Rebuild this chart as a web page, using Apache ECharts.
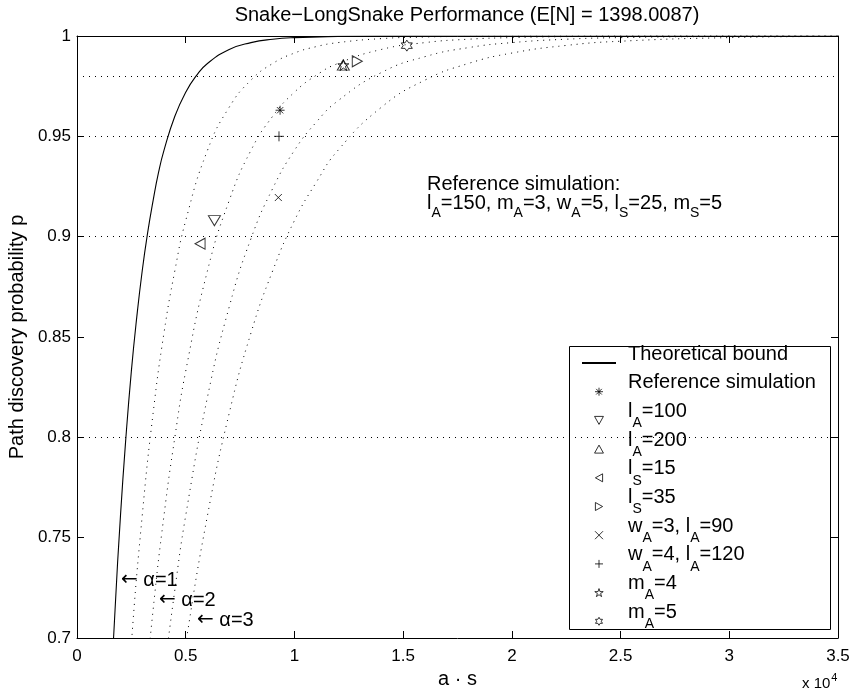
<!DOCTYPE html>
<html><head><meta charset="utf-8">
<script src="https://cdn.jsdelivr.net/npm/echarts@6/dist/echarts.min.js"></script>
<style>html,body{margin:0;padding:0;background:#fff}#c{width:850px;height:691px}</style>
</head><body><div id="c"></div>
<script>
const xTickLabels = ['0', '0.5', '1', '1.5', '2', '2.5', '3', '3.5'];
const yTickLabels = ['0.7', '0.75', '0.8', '0.85', '0.9', '0.95', '1'];
const thresholds = [0.8, 0.9, 0.95, 0.98];
const boundX = [1000, 1500, 1750, 2000, 2250, 2500, 2750, 3000, 3250, 3500, 3750, 4000, 4500, 5000, 5500, 6000, 7000, 8000, 9000, 10000, 12000, 14000, 20000, 35000];
const boundP = [0.511, 0.658, 0.714, 0.761, 0.800, 0.833, 0.860, 0.883, 0.902, 0.918, 0.932, 0.943, 0.960, 0.972, 0.9804, 0.9863, 0.9933, 0.9967, 0.9984, 0.9992, 0.9998, 1.0, 1.0, 1.0];
const a15X = [2000, 2500, 3000, 3500, 4000, 4500, 5000, 6000, 7000, 8000, 9000, 10000, 11000, 12000, 14000, 16000, 18000, 20000, 25000, 35000];
const a15P = [0.615, 0.697, 0.761, 0.812, 0.852, 0.883, 0.908, 0.943, 0.9645, 0.978, 0.9863, 0.9915, 0.9947, 0.9967, 0.9987, 0.9995, 0.9998, 0.9999, 1.0, 1.0];
const a2X = [3000, 3500, 4000, 4500, 5000, 6000, 7000, 8000, 9000, 10000, 11000, 12000, 14000, 16000, 18000, 20000, 22500, 25000, 30000, 35000];
const a2P = [0.658, 0.714, 0.761, 0.800, 0.833, 0.883, 0.918, 0.943, 0.960, 0.972, 0.9804, 0.9863, 0.9933, 0.9967, 0.9984, 0.9992, 0.9997, 0.9999, 1.0, 1.0];
const a25X = [4000, 4500, 5000, 6000, 7000, 8000, 9000, 10000, 11000, 12000, 14000, 16000, 18000, 20000, 22500, 25000, 30000, 35000];
const a25P = [0.682, 0.724, 0.761, 0.820, 0.865, 0.899, 0.924, 0.943, 0.957, 0.9677, 0.9818, 0.9897, 0.9942, 0.9967, 0.9984, 0.9992, 0.9998, 1.0];
const a3X = [4500, 5000, 6000, 7000, 8000, 9000, 10000, 11000, 12000, 14000, 16000, 18000, 20000, 22500, 25000, 30000, 35000];
const a3P = [0.658, 0.697, 0.761, 0.812, 0.852, 0.883, 0.908, 0.927, 0.943, 0.9645, 0.978, 0.9863, 0.9915, 0.9953, 0.9974, 0.9992, 0.9998];
const refSim = [9340, 0.963];
const lA100 = [6320, 0.908];
const lA200 = [12250, 0.9855];
const lS15 = [5660, 0.8965];
const lS35 = [12890, 0.9874];
const wA3lA90 = [9260, 0.9195];
const wA4lA120 = [9290, 0.950];
const mA4 = [12250, 0.9855];
const mA5 = [15170, 0.9952];
const legendNames = ['Theoretical bound', 'Reference simulation', 'l_A=100', 'l_A=200', 'l_S=15', 'l_S=35', 'w_A=3, l_A=90', 'w_A=4, l_A=120', 'm_A=4', 'm_A=5'];

const FONT = "'Liberation Sans', Arial, Helvetica, sans-serif";
function pairs(xs, ps) { return xs.map((x, i) => [x, ps[i]]); }
function toRich(str, n, s) {
  return '{' + n + '|' + str.replace(/_([A-Z])/g, '}{' + s + '|$1}{' + n + '|') + '}';
}
const SYM = {
  ast: 'path://M0,-1L0,1M-1,0L1,0M-0.7,-0.7L0.7,0.7M-0.7,0.7L0.7,-0.7',
  triDown: 'path://M0,0L2,0L1,1.8Z',
  triUp: 'path://M1,0L2,1.8L0,1.8Z',
  triLeft: 'path://M0,1L1.8,0L1.8,2Z',
  triRight: 'path://M0,0L1.8,1L0,2Z',
  cross: 'path://M0,0L1,1M0,1L1,0',
  plus: 'path://M0.5,0L0.5,1M0,0.5L1,0.5',
  penta: 'path://M0,-1L0.2245,-0.309L0.951,-0.309L0.3633,0.118L0.5878,0.809L0,0.382L-0.5878,0.809L-0.3633,0.118L-0.951,-0.309L-0.2245,-0.309Z',
  hexa: 'path://M0,-1L0.2887,-0.5L0.866,-0.5L0.577,0L0.866,0.5L0.2887,0.5L0,1L-0.2887,0.5L-0.866,0.5L-0.577,0L-0.866,-0.5L-0.2887,-0.5Z'
};
const markerStyle = { color: 'rgba(0,0,0,0)', borderColor: '#000', borderWidth: 1 };
function scatter(name, pt, sym, size) {
  return { type: 'scatter', name: name, data: [pt], symbol: sym, symbolSize: size, itemStyle: markerStyle, z: 5, silent: true };
}
function dotted(xs, ps) {
  return { type: 'line', data: pairs(xs, ps), showSymbol: false, symbol: 'none', smooth: 0.5,
    lineStyle: { color: '#000', width: 1, type: [1, 5] }, silent: true, z: 2 };
}
const axisCommon = {
  axisLine: { show: true, onZero: false, lineStyle: { color: '#000', width: 1 } },
  axisTick: { show: true, inside: true, length: 7, lineStyle: { color: '#000' } },
  splitLine: { show: false }
};
function arrowLabel(x, y, txt) {
  return { type: 'text', z: 10, x: x, y: y, silent: true,
    style: { text: '{a|\u2190} ' + txt, font: '20px ' + FONT, fill: '#000', verticalAlign: 'middle',
      rich: { a: { fontFamily: 'DejaVu Sans', fontSize: 20 } } } };
}
const chart = echarts.init(document.getElementById('c'), null, { renderer: 'canvas' });
chart.setOption({
  animation: false,
  backgroundColor: '#fff',
  title: {
    text: 'Snake\u2212LongSnake Performance (E[N] = 1398.0087)',
    left: 462, top: 0, textAlign: 'center',
    textStyle: { fontFamily: FONT, fontSize: 20, fontWeight: 'normal', color: '#000' }
  },
  grid: { left: 77, right: 12, top: 36, bottom: 53, outerBoundsMode: 'none', containLabel: false },
  xAxis: [
    Object.assign({ type: 'value', min: 0, max: 35000, interval: 5000, position: 'bottom',
      name: 'a \u00b7 s', nameLocation: 'middle', nameGap: 29,
      nameTextStyle: { fontFamily: FONT, fontSize: 20, color: '#000' },
      axisLabel: { fontFamily: FONT, fontSize: 17, color: '#000', margin: 10,
        formatter: v => xTickLabels[Math.round(v / 5000)] } }, axisCommon),
    Object.assign({ type: 'value', min: 0, max: 35000, interval: 5000, position: 'top', axisLabel: { show: false } }, axisCommon)
  ],
  yAxis: [
    Object.assign({ type: 'value', min: 0.7, max: 1, interval: 0.05, position: 'left',
      name: 'Path discovery probability p', nameLocation: 'middle', nameGap: 39,
      nameTextStyle: { fontFamily: FONT, fontSize: 20, color: '#000' },
      axisLabel: { fontFamily: FONT, fontSize: 17, color: '#000', margin: 6,
        formatter: v => yTickLabels[Math.round((v - 0.7) / 0.05)] } }, axisCommon),
    Object.assign({ type: 'value', min: 0.7, max: 1, interval: 0.05, position: 'right', axisLabel: { show: false } }, axisCommon)
  ],
  legend: {
    data: legendNames.map((n, i) => i === 0 ? { name: n, itemStyle: { opacity: 0 } } : n),
    orient: 'vertical', left: 581, top: 344, padding: 0, itemGap: -9.3,
    itemWidth: 34, itemHeight: 8, selectedMode: false, z: 6,
    itemStyle: { borderWidth: 1 },
    formatter: name => toRich(name, 'n', 's') + '{s| }',
    textStyle: {
      color: '#000', fontFamily: FONT, padding: [0, 0, 0, 7],
      rich: {
        n: { fontFamily: FONT, fontSize: 20, color: '#000', lineHeight: 20, padding: [0, 0, 18, 0] },
        s: { fontFamily: FONT, fontSize: 14, color: '#000', lineHeight: 14, padding: [11, 0, 5, 0] }
      }
    }
  },
  graphic: [
    { type: 'rect', z: 4, shape: { x: 569.5, y: 346.5, width: 261, height: 283 },
      style: { fill: '#fff', stroke: '#000', lineWidth: 1 }, silent: true },
    { type: 'text', z: 10, x: 427, y: 184, silent: true,
      style: { text: 'Reference simulation:', font: '20px ' + FONT, fill: '#000', verticalAlign: 'middle' } },
    { type: 'text', z: 10, x: 427, y: 203, silent: true,
      style: { text: toRich('l_A=150, m_A=3, w_A=5, l_S=25, m_S=5', 'n', 's'), fill: '#000', verticalAlign: 'middle',
        rich: {
          n: { fontFamily: FONT, fontSize: 20, fill: '#000', lineHeight: 18 },
          s: { fontFamily: FONT, fontSize: 14, fill: '#000', lineHeight: 14, padding: [20, 0, 0, 0] }
        } } },
    arrowLabel(121, 580, '\u03b1=1'),
    arrowLabel(159, 600, '\u03b1=2'),
    arrowLabel(197, 620, '\u03b1=3'),
    { type: 'text', z: 10, x: 802, y: 674, silent: true,
      style: { text: '{n|x 10}{p|4}', fill: '#000', verticalAlign: 'top',
        rich: { n: { fontFamily: FONT, fontSize: 15, lineHeight: 20 }, p: { fontFamily: FONT, fontSize: 11, lineHeight: 12, padding: [0, 0, 12, 1] } } } }
  ],
  series: [
    { type: 'line', name: 'Theoretical bound', data: pairs(boundX, boundP), showSymbol: false, symbol: 'none',
      smooth: 0.5, lineStyle: { color: '#000', width: 1.1 }, itemStyle: { color: '#000' }, silent: true, z: 3,
      markLine: { silent: true, symbol: 'none', label: { show: false },
        lineStyle: { color: '#000', width: 1, type: [1, 5] }, data: thresholds.map(v => ({ yAxis: v })) } },
    dotted(a15X, a15P), dotted(a2X, a2P), dotted(a25X, a25P), dotted(a3X, a3P),
    scatter('Reference simulation', refSim, SYM.ast, 9),
    scatter('l_A=100', lA100, SYM.triDown, [12, 10]),
    scatter('l_A=200', lA200, SYM.triUp, [12, 10]),
    scatter('l_S=15', lS15, SYM.triLeft, [10, 11]),
    scatter('l_S=35', lS35, SYM.triRight, [10, 11]),
    scatter('w_A=3, l_A=90', wA3lA90, SYM.cross, 7),
    scatter('w_A=4, l_A=120', wA4lA120, SYM.plus, 10),
    scatter('m_A=4', mA4, SYM.penta, 11),
    scatter('m_A=5', mA5, SYM.hexa, 11)
  ]
});
</script>
</body></html>
